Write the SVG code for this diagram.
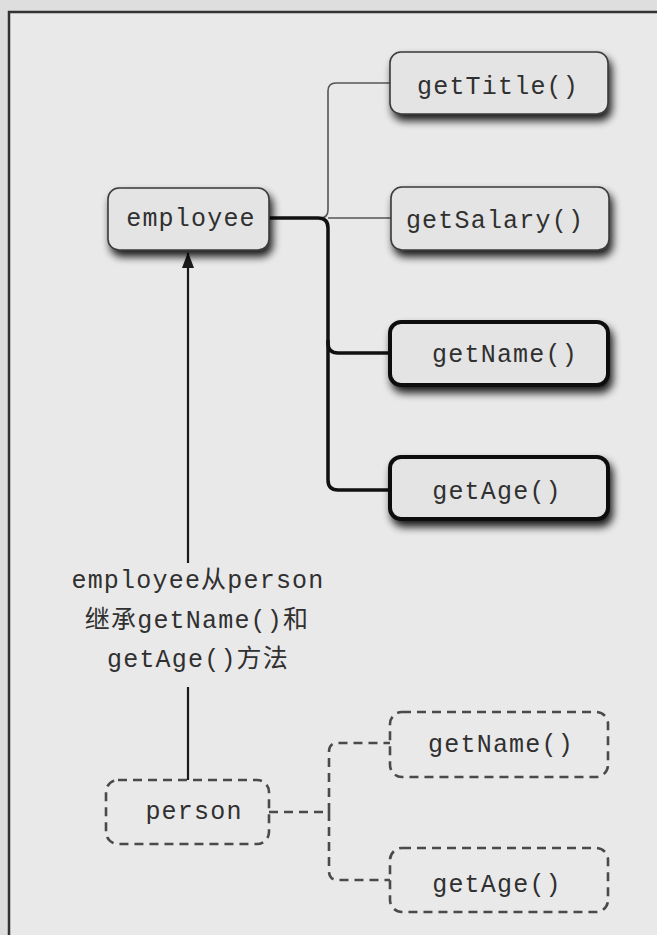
<svg xmlns="http://www.w3.org/2000/svg" width="657" height="935" viewBox="0 0 657 935">
  <defs>
    <filter id="shadow" x="-20%" y="-30%" width="150%" height="170%">
      <feGaussianBlur in="SourceAlpha" stdDeviation="4"/>
      <feOffset dx="3" dy="6" result="b"/>
      <feComponentTransfer><feFuncA type="linear" slope="0.9"/></feComponentTransfer>
      <feMerge><feMergeNode/><feMergeNode in="SourceGraphic"/></feMerge>
    </filter>
    <marker id="arrow" viewBox="0 0 16 12" refX="15" refY="6" markerWidth="16" markerHeight="12" markerUnits="userSpaceOnUse" orient="auto">
      <path d="M0,0 L16,6 L0,12 Z" fill="#1a1a1a"/>
    </marker>
    <style>
      .txt { font-family: "Liberation Mono", "Noto Sans CJK SC", monospace; font-size: 25px; letter-spacing: 1.2px; fill: #303030; text-anchor: middle; }
      .box { fill: #e4e4e4; stroke: #3a3a3a; stroke-width: 1.6; filter: url(#shadow); }
      .bold { fill: #e4e4e4; stroke: #111; stroke-width: 4; filter: url(#shadow); }
      .dash { fill: none; stroke: #4a4a4a; stroke-width: 2.6; stroke-dasharray: 9 6; }
      .thin { fill: none; stroke: #555; stroke-width: 1.6; }
      .thick { fill: none; stroke: #111; stroke-width: 3.5; }
      .dline { fill: none; stroke: #4a4a4a; stroke-width: 2.6; stroke-dasharray: 9 6; }
      .solid { fill: none; stroke: #1a1a1a; stroke-width: 2.2; }
    </style>
  </defs>

  <rect x="0" y="0" width="657" height="935" fill="#dedede"/>
  <rect x="9" y="12" width="670" height="940" fill="#e9e9e9" stroke="#333" stroke-width="2.5"/>

  <g id="connectors">
    <path class="thin" d="M269,218 H320 Q328,218 328,210 V91 Q328,83 336,83 H390"/>
    <path class="thin" d="M328,218 H391"/>
    <path class="thick" d="M269,218 H318 Q328,218 328,228 V343 Q328,353 338,353 H390"/>
    <path class="thick" d="M328,340 V480 Q328,490 338,490 H390"/>
    <path class="solid" d="M188,563 V253" marker-end="url(#arrow)"/>
    <path class="solid" d="M188,687 V780"/>
    <path class="dline" d="M269,812 H329"/>
    <path class="dline" d="M329,812 V752 Q329,743 338,743 H390"/>
    <path class="dline" d="M329,812 V871 Q329,880 338,880 H390"/>
  </g>

  <g id="employee">
    <rect class="box" x="108" y="188" width="161" height="62" rx="11"/>
    <text class="txt" x="191" y="226">employee</text>
  </g>
  <g id="getTitle">
    <rect class="box" x="390" y="52" width="218" height="62" rx="11"/>
    <text class="txt" x="498" y="94">getTitle()</text>
  </g>
  <g id="getSalary">
    <rect class="box" x="391" y="187" width="218" height="63" rx="11"/>
    <text class="txt" x="495" y="228">getSalary()</text>
  </g>
  <g id="getName">
    <rect class="bold" x="390" y="322" width="218" height="63" rx="11"/>
    <text class="txt" x="505" y="362">getName()</text>
  </g>
  <g id="getAge">
    <rect class="bold" x="390" y="457" width="218" height="62" rx="11"/>
    <text class="txt" x="497" y="499">getAge()</text>
  </g>
  <g id="label">
    <text class="txt" x="198" y="588">employee从person</text>
    <text class="txt" x="197" y="628">继承getName()和</text>
    <text class="txt" x="198" y="667">getAge()方法</text>
  </g>
  <g id="person">
    <rect class="dash" x="106" y="780" width="163" height="64" rx="12"/>
    <text class="txt" x="194" y="819">person</text>
  </g>
  <g id="person-getName">
    <rect class="dash" x="390" y="712" width="218" height="65" rx="12"/>
    <text class="txt" x="501" y="752">getName()</text>
  </g>
  <g id="person-getAge">
    <rect class="dash" x="390" y="848" width="218" height="64" rx="12"/>
    <text class="txt" x="497" y="892">getAge()</text>
  </g>
</svg>
